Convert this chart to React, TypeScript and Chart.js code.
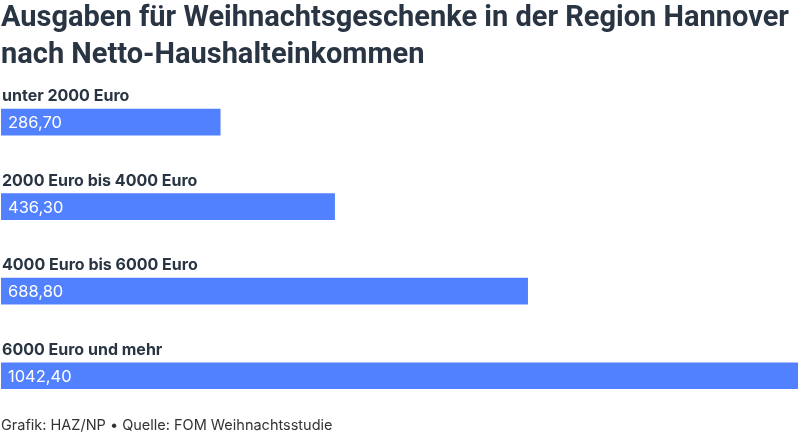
import React, { useEffect, useRef } from "react";
import { Chart, registerables } from "chart.js";

Chart.register(...registerables);

const titleLines = [
  "Ausgaben für Weihnachtsgeschenke in der Region Hannover",
  "nach Netto-Haushalteinkommen",
];
const categories = [
  "unter 2000 Euro",
  "2000 Euro bis 4000 Euro",
  "4000 Euro bis 6000 Euro",
  "6000 Euro und mehr",
];
const values = [286.7, 436.3, 688.8, 1042.4];
const footerText = "Grafik: HAZ/NP • Quelle: FOM Weihnachtsstudie";

const TEXT = "#293543";
const BAR = "#5281ff";

const fmt = (v: number) =>
  v.toLocaleString("de-DE", {
    minimumFractionDigits: 2,
    maximumFractionDigits: 2,
    useGrouping: false,
  });

const labelPlugin = {
  id: "labelPlugin",
  afterDatasetsDraw(chart: any) {
    const ctx = chart.ctx;
    const meta = chart.getDatasetMeta(0);
    ctx.save();
    meta.data.forEach((bar: any, i: number) => {
      const top = bar.y - bar.height / 2;
      ctx.fillStyle = TEXT;
      ctx.font = "bold 16px Inter";
      ctx.textAlign = "left";
      ctx.textBaseline = "alphabetic";
      ctx.fillText(categories[i], 2, top - 8);
      ctx.fillStyle = "#ffffff";
      ctx.font = "16.5px Inter";
      ctx.textBaseline = "middle";
      ctx.fillText(fmt(values[i]), 8, bar.y + 1);
    });
    ctx.fillStyle = "#333333";
    ctx.font = "14.5px Inter";
    ctx.textBaseline = "middle";
    ctx.fillText(footerText, 1, 426);
    ctx.restore();
  },
};

export default function App() {
  const ref = useRef<HTMLCanvasElement | null>(null);
  useEffect(() => {
    document.body.style.margin = "0";
    const chart = new Chart(ref.current!, {
      type: "bar",
      data: {
        labels: categories,
        datasets: [
          {
            data: values,
            backgroundColor: BAR,
            borderWidth: 0,
            barThickness: 26,
          },
        ],
      },
      options: {
        indexAxis: "y",
        animation: false,
        responsive: false,
        layout: { padding: { left: 1, right: 2, top: 0, bottom: 16 } },
        plugins: {
          legend: { display: false },
          tooltip: { enabled: false },
          title: {
            display: true,
            text: titleLines,
            align: "start",
            color: TEXT,
            font: { family: "Roboto", size: 29, weight: "bold", lineHeight: 1.29 },
            padding: { top: 0, bottom: 5 },
          },
        },
        scales: {
          x: { display: false, min: 0, max: 1042.4 },
          y: { display: false, offset: true },
        },
      },
      plugins: [labelPlugin],
    });
    return () => chart.destroy();
  }, []);
  return <canvas ref={ref} width={800} height={434} style={{ display: "block" }} />;
}
